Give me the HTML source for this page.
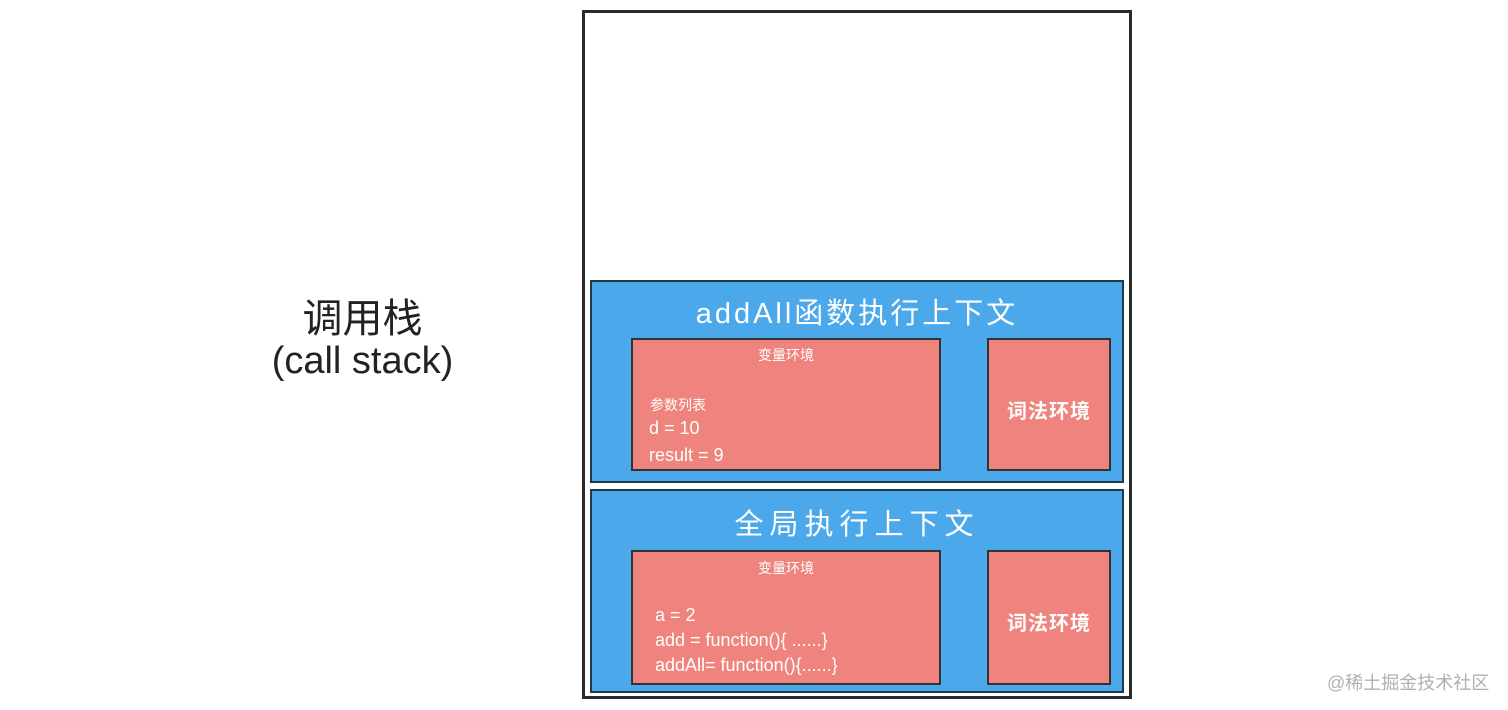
<!DOCTYPE html>
<html><head><meta charset="utf-8"><style>
body{margin:0;width:1508px;height:710px;background:#fff;position:relative;overflow:hidden;font-family:"Liberation Sans","Noto Sans CJK SC",sans-serif;}
.a{position:absolute;box-sizing:border-box}
.outer{left:582px;top:10px;width:550px;height:689px;border:3px solid #2a2a2a}
.blue{background:#4ba8ea;border:2px solid #1f3a4a}
.red{background:#ee847d;border:2px solid #333;color:#fff}
.t{position:absolute;color:#fff;white-space:nowrap}
</style></head><body>
<div class="a outer"></div>
<div class="a blue" style="left:590px;top:280px;width:534px;height:203px"></div>
<div class="a blue" style="left:590px;top:489px;width:534px;height:204px"></div>
<div class="t" style="left:590px;width:534px;text-align:center;top:290px;font-size:29px;letter-spacing:3px">addAll函数执行上下文</div>
<div class="t" style="left:590px;width:534px;text-align:center;top:501px;font-size:29px;letter-spacing:6px">全局执行上下文</div>
<div class="a red" style="left:631px;top:338px;width:310px;height:133px"></div>
<div class="a red" style="left:987px;top:338px;width:124px;height:133px"></div>
<div class="a red" style="left:631px;top:550px;width:310px;height:135px"></div>
<div class="a red" style="left:987px;top:550px;width:124px;height:135px"></div>
<div class="t" style="left:631px;width:310px;text-align:center;top:345px;font-size:14px">变量环境</div>
<div class="t" style="left:650px;top:395px;font-size:14px">参数列表</div>
<div class="t" style="left:649px;top:418px;font-size:18px">d = 10</div>
<div class="t" style="left:649px;top:445px;font-size:18px">result = 9</div>
<div class="t" style="left:987px;width:124px;text-align:center;top:395px;font-size:20px;letter-spacing:1px;font-weight:bold">词法环境</div>
<div class="t" style="left:631px;width:310px;text-align:center;top:558px;font-size:14px">变量环境</div>
<div class="t" style="left:655px;top:605px;font-size:18px">a = 2</div>
<div class="t" style="left:655px;top:630px;font-size:18px">add = function(){ ......}</div>
<div class="t" style="left:655px;top:655px;font-size:18px">addAll= function(){......}</div>
<div class="t" style="left:987px;width:124px;text-align:center;top:607px;font-size:20px;letter-spacing:1px;font-weight:bold">词法环境</div>
<div class="t" style="left:250px;width:225px;text-align:center;top:286px;font-size:40px;color:#222">调用栈</div>
<div class="t" style="left:250px;width:225px;text-align:center;top:340px;font-size:38px;color:#222">(call stack)</div>
<div class="t" style="left:1327px;top:669px;font-size:18px;color:#b0b0b0">@稀土掘金技术社区</div>
</body></html>
